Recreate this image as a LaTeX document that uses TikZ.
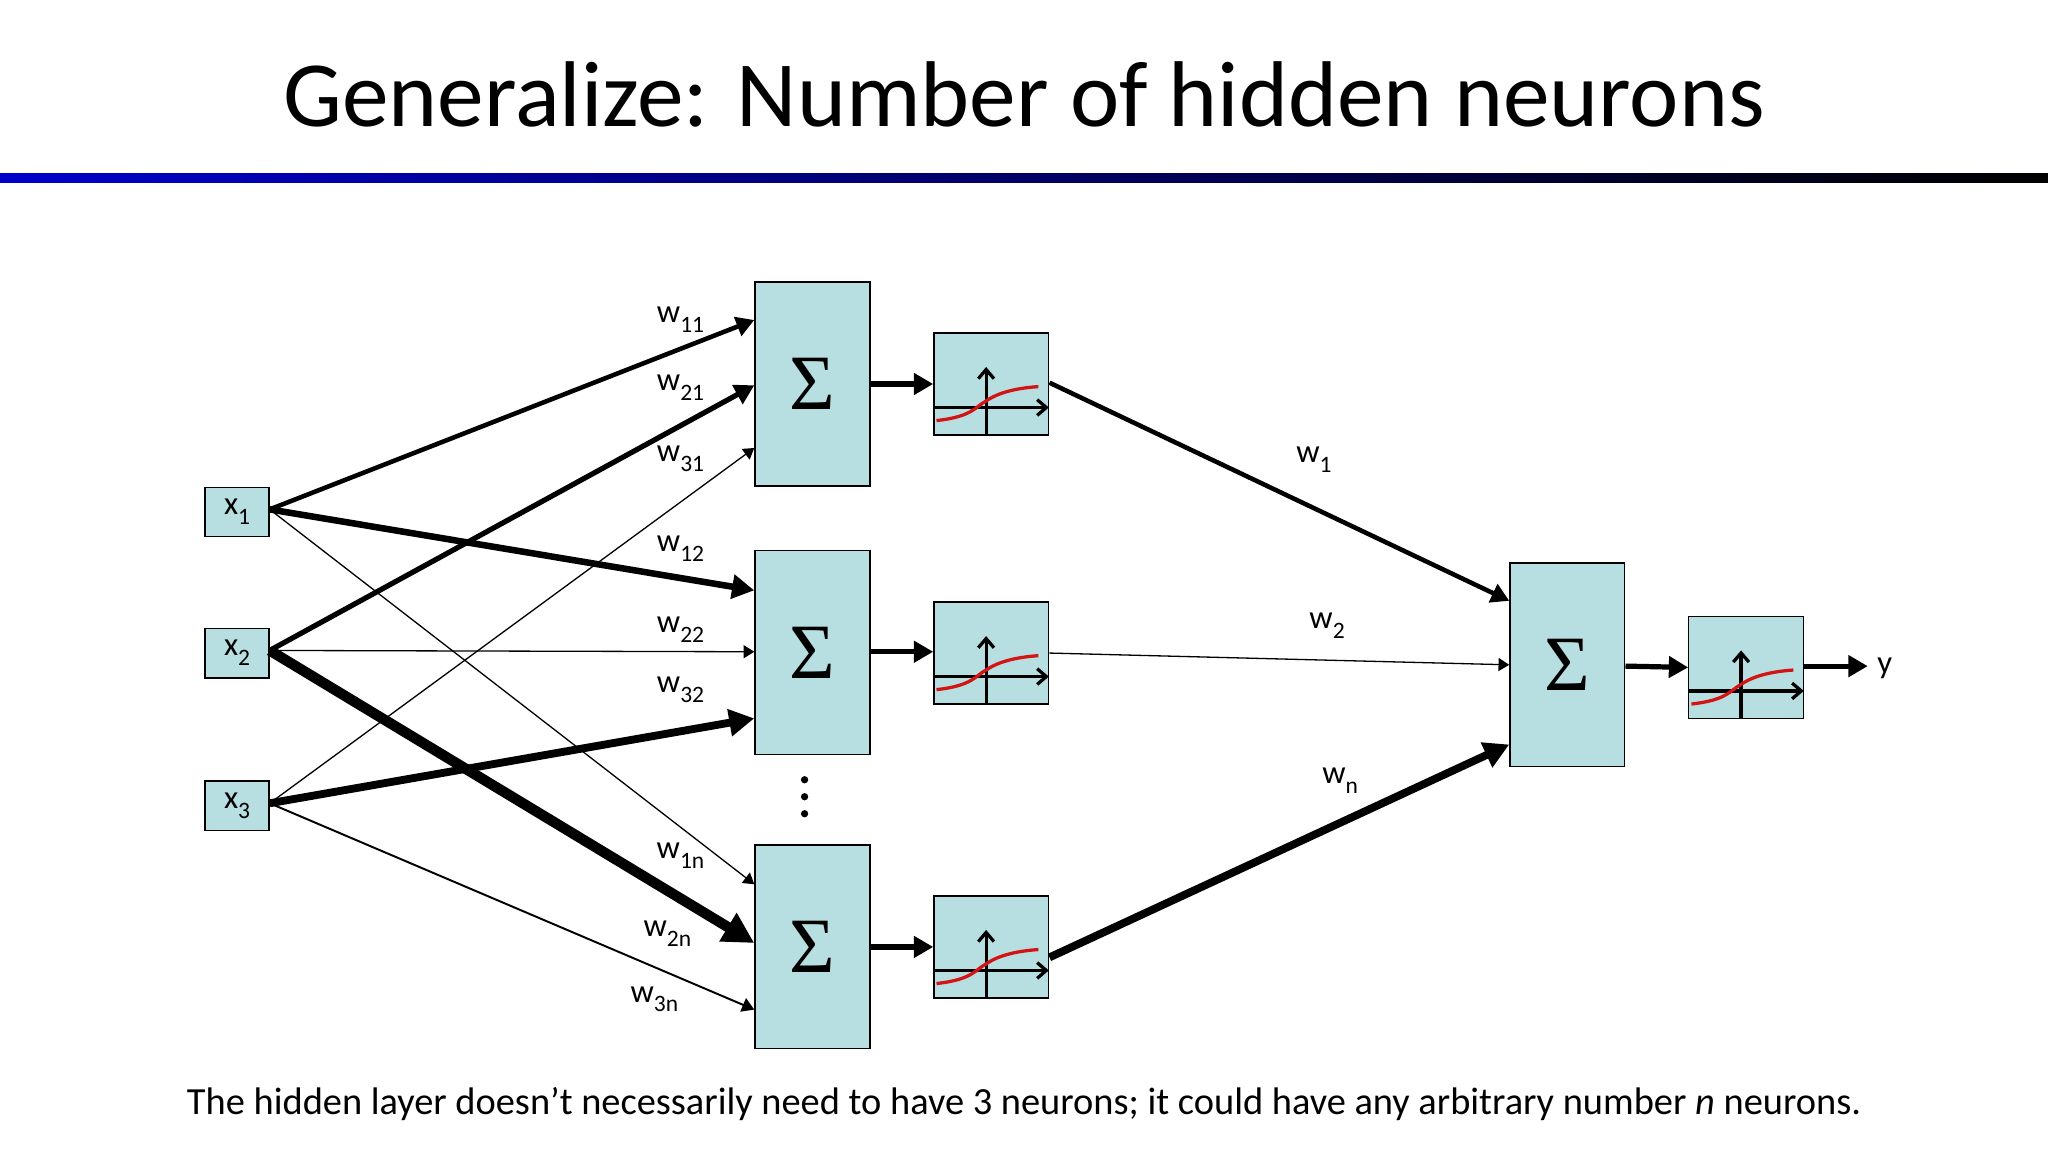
\documentclass[tikz,border=0pt]{standalone}
\usepackage{fontspec}
\setmainfont{Carlito}
\newfontfamily\sigfont{Liberation Serif}
\usetikzlibrary{arrows.meta}
\definecolor{tb}{RGB}{183,222,224}
\definecolor{sred}{RGB}{210,20,20}
\newcommand\lsub[1]{\raisebox{-0.3em}{\fontsize{18}{18}\selectfont #1}}
\begin{document}
\begin{tikzpicture}[x=1pt,y=-1pt,
  box/.style={draw=black,line width=1pt,fill=tb,minimum width=88pt,minimum height=156pt,inner sep=0pt},
  abox/.style={draw=black,line width=1pt,fill=tb,minimum width=88pt,minimum height=78pt,inner sep=0pt},
  ibox/.style={draw=black,line width=1pt,fill=tb,minimum width=49pt,minimum height=38pt,inner sep=0pt,font=\fontsize{25}{26}\selectfont},
  sig/.style={font=\sigfont\fontsize{60}{60}\selectfont},
  lab/.style={font=\fontsize{25}{26}\selectfont},
  ar/.style={-{Triangle[length=#1*2.2pt+6pt,width=#1*2pt+8pt]},line width=#1 pt},
  ar/.default=1]
\useasboundingbox (0,0) rectangle (1568,882);
\node[font=\fontsize{71.5}{75}\selectfont] (title) at (784,72) {Generalize: Number of hidden neurons};
\shade[left color=blue!80!black,right color=black] (0,133) rectangle (1568,140);
\tikzset{act/.pic={
  \node[abox] (-b) at (44,39) {};
  \draw[line width=2.5pt,-{Straight Barb[length=7pt,width=12pt]}] (0,57)--(88,57);
  \draw[line width=2.5pt,-{Straight Barb[length=7pt,width=12pt]}] (40,78)--(40,26);
  \draw[sred,line width=2.5pt] (2,67) .. controls (30,64) and (32,56) .. (40,52) .. controls (50,45) and (65,42) .. (80,41);
}}
\node[ibox] (x1) at (181.5,392) {x\lsub{1}};
\node[ibox] (x2) at (181.5,500) {x\lsub{2}};
\node[ibox] (x3) at (181.5,617) {x\lsub{3}};
\node[box] (s1) at (622,294) {}; \node[sig] at (s1) {Σ};
\node[box] (s2) at (622,499.5) {}; \node[sig] at (s2) {Σ};
\node[box] (s3) at (622,725) {}; \node[sig] at (s3) {Σ};
\node[box] (so) at (1200,509) {}; \node[sig] at (so) {Σ};
\pic (a1) at (715,255) {act};
\pic (a2) at (715,461) {act};
\pic (a3) at (715,686) {act};
\pic (ao) at (1293,472) {act};
\coordinate (yend) at (1430,510);
\node[lab] (y) at (1443,512) {y};
\foreach \yy in {597,610,623} \fill (616,\yy) circle (2.8pt);
% input edges
\draw[ar=3.5] (x1.east|-0,390) -- (s1.west|-0,245);
\draw[ar=5] (x1.east|-0,390) -- (s2.west|-0,452);
\draw[ar=1] (x1.east|-0,390) -- (s3.west|-0,677);
\draw[ar=4] (x2.east|-0,498) -- (s1.west|-0,295);
\draw[ar=1] (x2.east|-0,498) -- (s2.west|-0,499);
\draw[ar=8] (x2.east|-0,498) -- (s3.west|-0,722);
\draw[ar=1] (x3.east|-0,615) -- (s1.west|-0,343);
\draw[ar=6] (x3.east|-0,615) -- (s2.west|-0,550);
\draw[ar=1.5] (x3.east|-0,615) -- (s3.west|-0,773);
\node[lab] (l11) at (521,245) {w\lsub{11}};
\node[lab] (l21) at (521,297) {w\lsub{21}};
\node[lab] (l31) at (521,351) {w\lsub{31}};
\node[lab] (l12) at (521,420) {w\lsub{12}};
\node[lab] (l22) at (521,482) {w\lsub{22}};
\node[lab] (l32) at (521,528) {w\lsub{32}};
\node[lab] (l1n) at (521,655) {w\lsub{1n}};
\node[lab] (l2n) at (511,715) {w\lsub{2n}};
\node[lab] (l3n) at (501,765) {w\lsub{3n}};
% sum to act
\draw[ar=4] (s1.east|-0,294) -- (a1-b.west|-0,294);
\draw[ar=4] (s2.east|-0,499) -- (a2-b.west|-0,499);
\draw[ar=4] (s3.east|-0,725) -- (a3-b.west|-0,725);
% act to output
\draw[ar=3.5] (a1-b.east|-0,293) -- (so.west|-0,460);
\draw[ar=1] (a2-b.east|-0,500) -- (so.west|-0,509);
\draw[ar=6] (a3-b.east|-0,733) -- (so.west|-0,570);
\node[lab] (lw1) at (1006,352) {w\lsub{1}};
\node[lab] (lw2) at (1016,479) {w\lsub{2}};
\node[lab] (lwn) at (1026,598) {w\lsub{n}};
\draw[ar=4] (so.east|-0,510) -- (ao-b.west|-0,511);
\draw[ar=4] (ao-b.east|-0,510) -- (yend);
\node[font=\fontsize{29.4}{31}\selectfont] (cap) at (784,845) {The hidden layer doesn’t necessarily need to have 3 neurons; it could have any arbitrary number \textit{n} neurons.};
\end{tikzpicture}
\end{document}
